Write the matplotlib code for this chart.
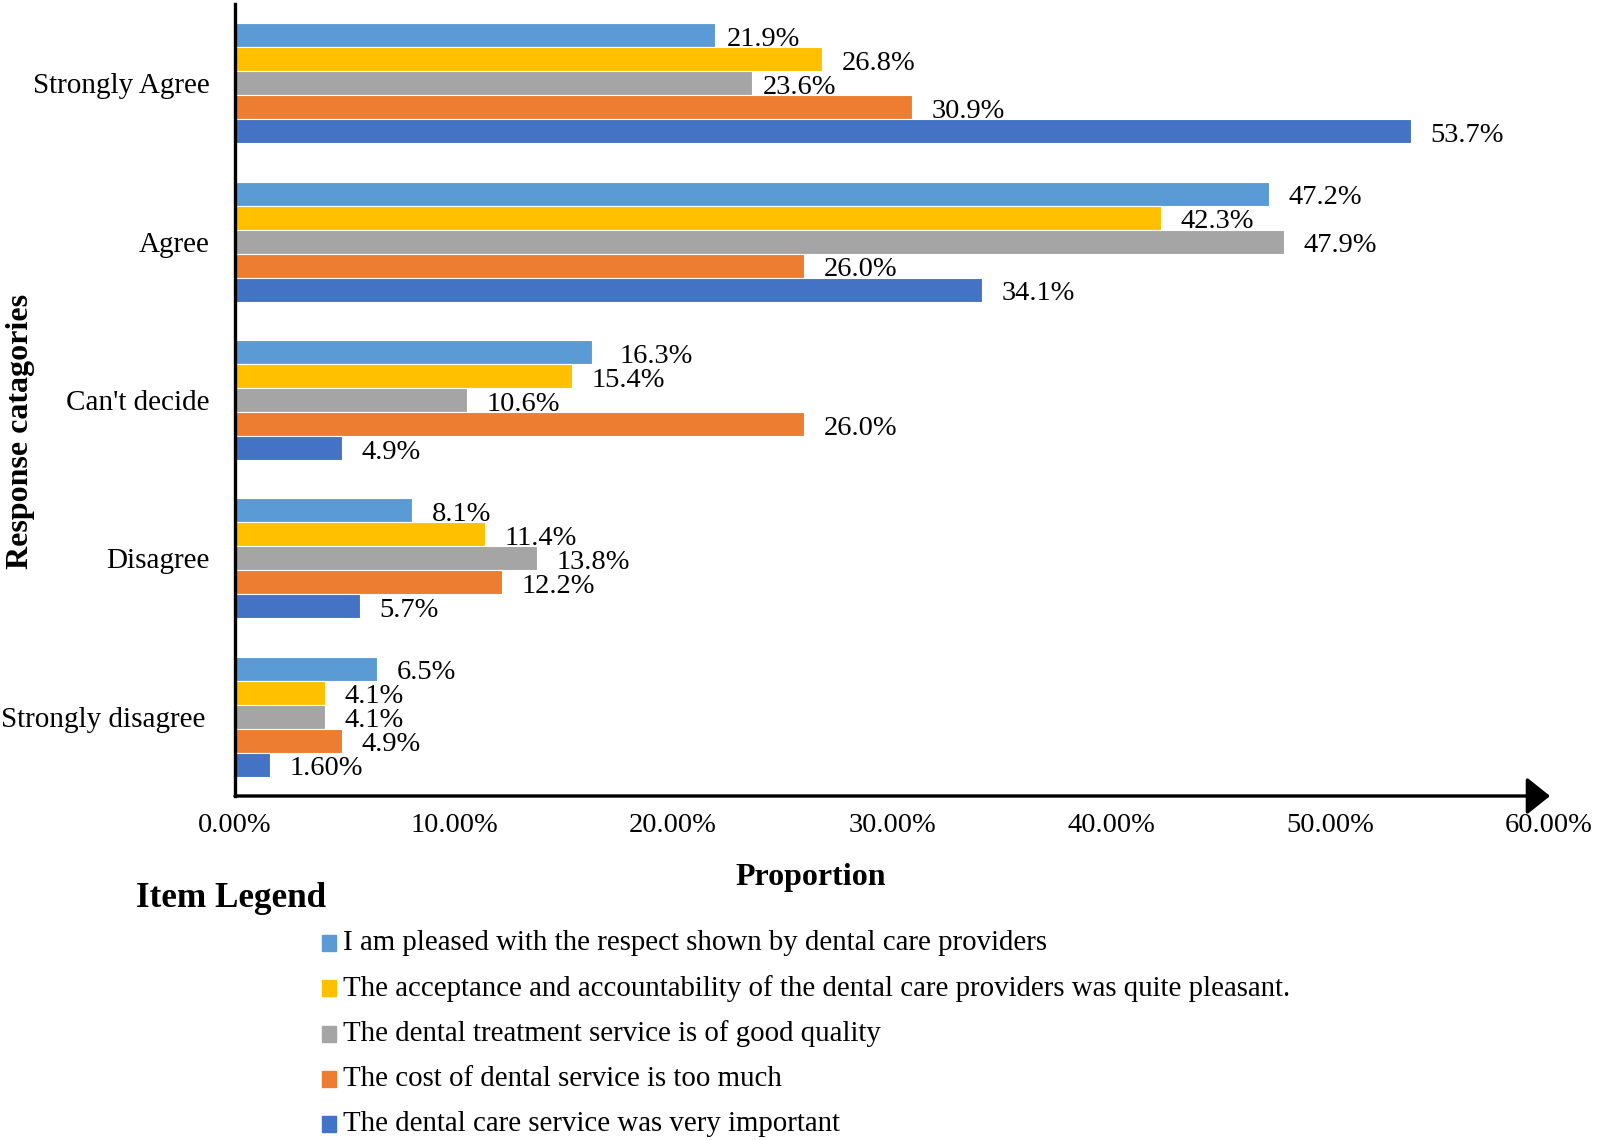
import matplotlib
matplotlib.use("Agg")
import matplotlib.pyplot as plt
import matplotlib.transforms as mtransforms
from matplotlib.patches import Rectangle
import numpy as np

plt.rcParams['font.family'] = ['Liberation Serif', 'DejaVu Serif']

categories = ["Strongly Agree", "Agree", "Can't decide", "Disagree", "Strongly disagree"]

items = [
    "I am pleased with the respect shown by dental care providers",
    "The acceptance and accountability of the dental care providers was quite pleasant.",
    "The dental treatment service is of good quality",
    "The cost of dental service is too much",
    "The dental care service was very important",
]

respect = [21.9, 47.2, 16.3, 8.1, 6.5]
acceptance = [26.8, 42.3, 15.4, 11.4, 4.1]
quality = [23.6, 47.9, 10.6, 13.8, 4.1]
cost = [30.9, 26.0, 26.0, 12.2, 4.9]
important = [53.7, 34.1, 4.9, 5.7, 1.6]

label_text = [
    ["21.9%", "47.2%", "16.3%", "8.1%", "6.5%"],
    ["26.8%", "42.3%", "15.4%", "11.4%", "4.1%"],
    ["23.6%", "47.9%", "10.6%", "13.8%", "4.1%"],
    ["30.9%", "26.0%", "26.0%", "12.2%", "4.9%"],
    ["53.7%", "34.1%", "4.9%", "5.7%", "1.60%"],
]

xticks = [0, 10, 20, 30, 40, 50, 60]

colors = ["#5B9BD5", "#FFC000", "#A5A5A5", "#ED7D31", "#4472C4"]

W, H = 1600, 1140
fig = plt.figure(figsize=(W / 100, H / 100), dpi=100)

def fx(x):
    return x / W

def fy(y):
    return 1 - y / H

# axes box: x from 235 to 1549 px, y from 4 to 796 px
ax = fig.add_axes([fx(235), fy(796), (1549 - 235) / W, (796 - 4) / H])

series = [respect, acceptance, quality, cost, important]
y = np.arange(len(categories))
bh = 0.1516

# label gap tweaks (points) where the original labels sit closer/further
nudge = {(0, 0): -5, (2, 0): -6, (0, 2): 6}

for i, vals in enumerate(series):
    pos = y + (i - 2) * bh
    ax.barh(pos, vals, height=bh, color=colors[i], edgecolor="white", linewidth=0.8)
    for j, v in enumerate(vals):
        dx = 14 + nudge.get((i, j), 0)
        ax.annotate(label_text[i][j], (v, pos[j]), xytext=(dx, -3),
                    textcoords="offset points", ha="left", va="center",
                    fontsize=20.5)

ax.set_xlim(0, 60)
ax.set_ylim(4.5, -0.5)
ax.set_xticks(xticks)
ax.set_xticklabels([f"{v:.2f}%" for v in xticks], fontsize=20.5)
ax.set_yticks(y)
ax.set_yticklabels(categories, fontsize=21)
ax.tick_params(axis="both", length=0)
ax.tick_params(axis="x", pad=12)
ax.tick_params(axis="y", pad=18)

# last category label sits a little further left in the original
lab = ax.get_yticklabels()[-1]
lab.set_transform(lab.get_transform() + mtransforms.ScaledTranslation(-5 / 100, 0, fig.dpi_scale_trans))

for s in ["top", "right", "bottom"]:
    ax.spines[s].set_visible(False)
ax.spines["left"].set_linewidth(2.4)
ax.spines["left"].set_color("black")

ax.annotate("", xy=(1.0008, 0), xytext=(0, 0), xycoords="axes fraction",
            arrowprops=dict(arrowstyle="-|>,head_length=14.4,head_width=11.5",
                            mutation_scale=1, lw=2.4, color="black",
                            shrinkA=0, shrinkB=0),
            annotation_clip=False)

fig.text(fx(811), fy(885), "Proportion", ha="center", va="baseline",
         fontsize=23, fontweight="bold")
fig.text(fx(20.5), fy(431), "Response catagories", ha="center", va="center",
         rotation=90, fontsize=23, fontweight="bold")

# legend
fig.text(fx(136), fy(907), "Item Legend", ha="left", va="baseline",
         fontsize=25.3, fontweight="bold")
for k, name in enumerate(items):
    cy = 943 + k * 45.3
    fig.patches.append(Rectangle((fx(322), fy(cy + 8)), 14 / W, 16 / H,
                                 transform=fig.transFigure, color=colors[k]))
    fig.text(fx(343), fy(cy), name, ha="left", va="center", fontsize=20.8)

fig.savefig("out.png", dpi=100)
